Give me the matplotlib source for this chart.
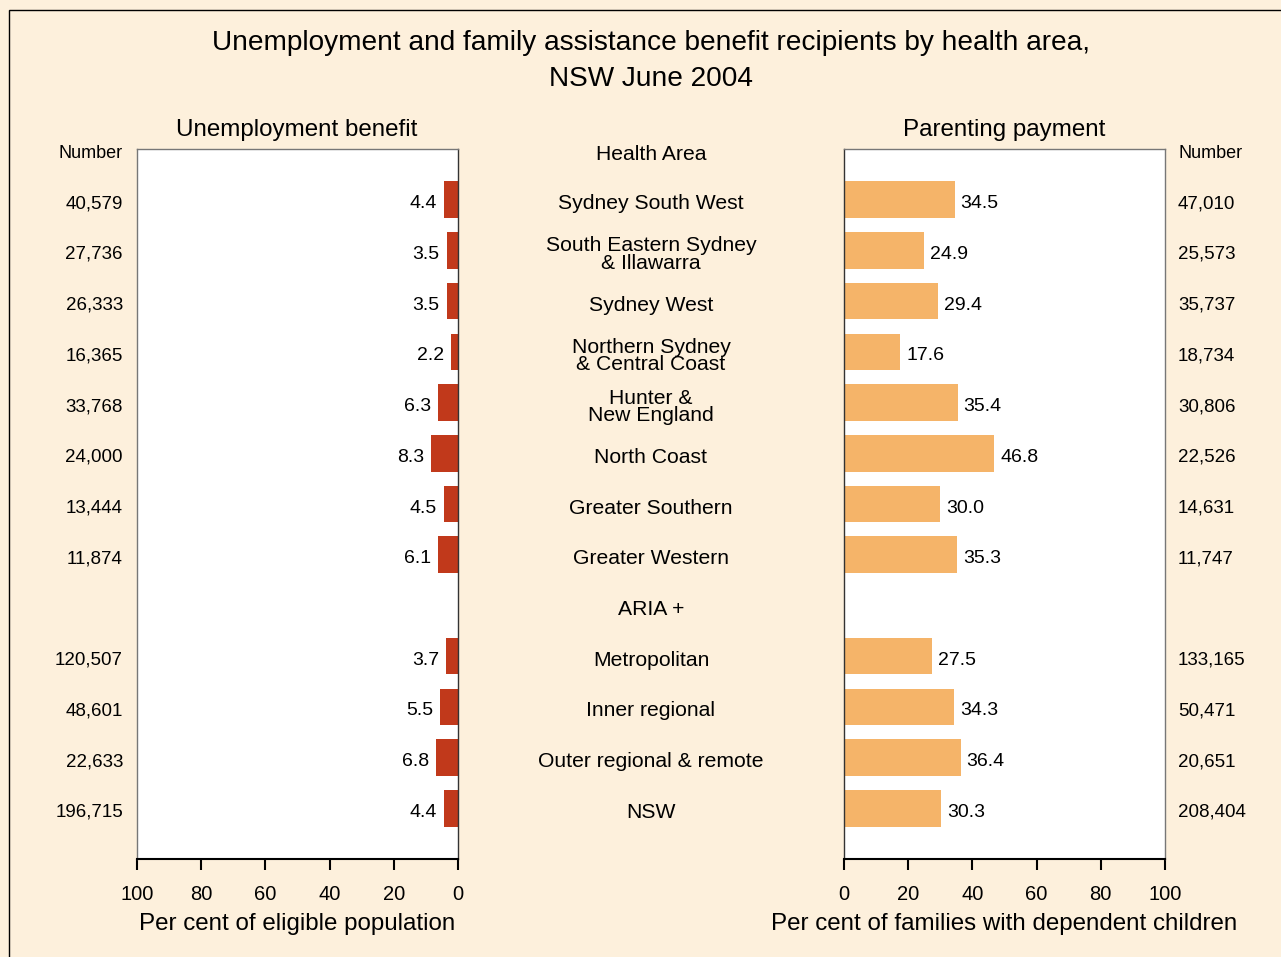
"""
    benefit_recipients.py
    Unemployment and parenting payment recipients by NSW health area, June 2004
"""

import matplotlib.pyplot as plt
from matplotlib.patches import Rectangle
from matplotlib.transforms import blended_transform_factory

plt.rcParams["font.family"] = ["Liberation Sans", "DejaVu Sans"]

areas = [
    "Sydney South West",
    "South Eastern Sydney\n& Illawarra",
    "Sydney West",
    "Northern Sydney\n& Central Coast",
    "Hunter &\nNew England",
    "North Coast",
    "Greater Southern",
    "Greater Western",
    "ARIA +",
    "Metropolitan",
    "Inner regional",
    "Outer regional & remote",
    "NSW",
]

# None marks the ARIA+ heading row, which has no data
unemp_pct = [4.4, 3.5, 3.5, 2.2, 6.3, 8.3, 4.5, 6.1, None, 3.7, 5.5, 6.8, 4.4]
unemp_num = ["40,579", "27,736", "26,333", "16,365", "33,768", "24,000", "13,444",
             "11,874", "", "120,507", "48,601", "22,633", "196,715"]

parent_pct = [34.5, 24.9, 29.4, 17.6, 35.4, 46.8, 30.0, 35.3, None, 27.5, 34.3, 36.4, 30.3]
parent_num = ["47,010", "25,573", "35,737", "18,734", "30,806", "22,526", "14,631",
              "11,747", "", "133,165", "50,471", "20,651", "208,404"]

ticks = [0, 20, 40, 60, 80, 100]

BG = "#FDF0DC"
RED = "#C1391B"
ORANGE = "#F5B469"
W, H = 1281, 957
TXT_DY = 0.08  # text sits a touch below the bar centre


def fx(px):
    return px / W


def fy(py):
    return 1 - py / H


def style_axes(ax, inner_side):
    ax.set_facecolor("white")
    ax.set_ylim(13.0, -1.0)
    ax.set_yticks([])
    ax.set_xticks(ticks)
    ax.tick_params(axis="x", direction="out", length=8, width=1.5,
                   labelsize=14.5, pad=11, color="black")
    for side in ["top", "left", "right"]:
        ax.spines[side].set_color("#777777")
        ax.spines[side].set_linewidth(1)
    ax.spines[inner_side].set_color("#333333")
    ax.spines["bottom"].set_color("black")
    ax.spines["bottom"].set_linewidth(1.5)


fig = plt.figure(figsize=(W / 100, H / 100), dpi=100)
fig.patch.set_facecolor(BG)
fig.patches.append(Rectangle((fx(9), fy(H + 5)), 1.0, fy(10) - fy(H + 5),
                             transform=fig.transFigure, fill=False,
                             edgecolor="black", linewidth=1))

ax1 = fig.add_axes([fx(137), fy(859), fx(458 - 137), fy(149) - fy(859)])
ax2 = fig.add_axes([fx(844), fy(859), fx(1165 - 844), fy(149) - fy(859)])

rows = list(range(len(areas)))

# Left panel: unemployment benefit, bars grow leftwards
style_axes(ax1, "right")
ax1.set_xlim(100, 0)
for i, v in zip(rows, unemp_pct):
    if v is None:
        continue
    ax1.barh(i, v, height=0.72, color=RED)
    ax1.text(v + 2.2, i + TXT_DY, f"{v:.1f}", ha="right", va="center", fontsize=14)

# Right panel: parenting payment
style_axes(ax2, "left")
ax2.set_xlim(0, 100)
for i, v in zip(rows, parent_pct):
    if v is None:
        continue
    ax2.barh(i, v, height=0.72, color=ORANGE)
    ax2.text(v + 1.8, i + TXT_DY, f"{v:.1f}", ha="left", va="center", fontsize=14)

ax1.set_xlabel("Per cent of eligible population", fontsize=17.4, labelpad=6.5)
ax2.set_xlabel("Per cent of families with dependent children", fontsize=17.4,
               labelpad=6.5)

# Number columns and centre labels: x in figure space, y on the row scale
row_tr = blended_transform_factory(fig.transFigure, ax1.transData)
for i in rows:
    y = i + TXT_DY
    fig.text(fx(123), y, unemp_num[i], transform=row_tr, ha="right",
             va="center", fontsize=13.5)
    fig.text(fx(1178), y, parent_num[i], transform=row_tr, ha="left",
             va="center", fontsize=13.5)
    fig.text(fx(651), y, areas[i], transform=row_tr, ha="center",
             va="center", fontsize=15.2, linespacing=0.87)

fig.text(fx(651), fy(154), "Health Area", ha="center", va="center", fontsize=15.2)
fig.text(fx(123), fy(153), "Number", ha="right", va="center", fontsize=13)
fig.text(fx(1178), fy(153), "Number", ha="left", va="center", fontsize=13)

fig.text(fx(297), fy(130), "Unemployment benefit", ha="center", va="center",
         fontsize=17.4)
fig.text(fx(1004), fy(130), "Parenting payment", ha="center", va="center",
         fontsize=17.4)

fig.text(fx(651), fy(43), "Unemployment and family assistance benefit recipients by health area,",
         ha="center", va="center", fontsize=20.2)
fig.text(fx(651), fy(79), "NSW June 2004", ha="center", va="center", fontsize=20.2)

plt.savefig("out.png", dpi=100, facecolor=BG)
